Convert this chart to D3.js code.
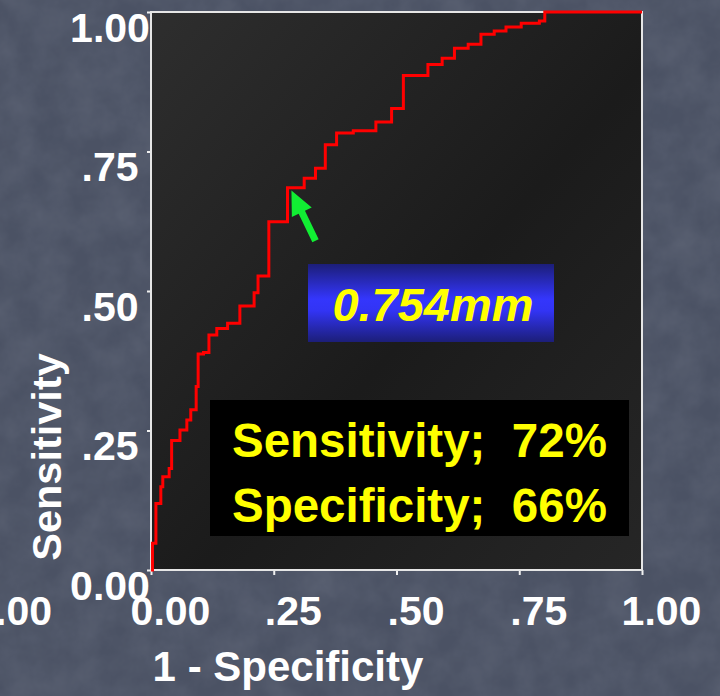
<!DOCTYPE html>
<html>
<head>
<meta charset="utf-8">
<script src="https://cdn.jsdelivr.net/npm/d3@7"></script>
<style>
  html, body { margin: 0; padding: 0; background: #4b5264; }
  svg { display: block; }
  text { font-family: "Liberation Sans", Arial, sans-serif; font-weight: bold; white-space: pre; }
</style>
</head>
<body>
<svg id="chart" width="720" height="696"></svg>
<script>
// ---- data ----
const fpr = [0, 0.003, 0.010, 0.020, 0.024, 0.037, 0.042, 0.059, 0.073, 0.081, 0.092, 0.096, 0.107, 0.118, 0.134, 0.156, 0.181, 0.210, 0.218, 0.240, 0.278, 0.312, 0.335, 0.355, 0.378, 0.412, 0.458, 0.490, 0.514, 0.564, 0.593, 0.618, 0.646, 0.672, 0.699, 0.723, 0.754, 0.791, 0.802, 1.0];
const tpr = [0, 0.048, 0.119, 0.149, 0.167, 0.182, 0.232, 0.251, 0.269, 0.287, 0.329, 0.387, 0.390, 0.421, 0.433, 0.442, 0.473, 0.497, 0.527, 0.624, 0.685, 0.702, 0.720, 0.762, 0.783, 0.787, 0.803, 0.827, 0.886, 0.906, 0.917, 0.935, 0.942, 0.960, 0.966, 0.973, 0.980, 0.984, 1.0, 1.0];
const tickValues = [0, 0.25, 0.5, 0.75, 1];
const xTickLabels = ["0.00", ".25", ".50", ".75", "1.00"];
const yTickLabels = ["0.00", ".25", ".50", ".75", "1.00"];
const xTitle = "1 - Specificity";
const yTitle = "Sensitivity";
const cutoffLabel = "0.754mm";
const resultLines = ["Sensitivity;  72%", "Specificity;  66%"];
const arrowTip = [0.286, 0.680];
const arrowTail = [0.335, 0.590];

// ---- layout ----
const W = 720, H = 696;
const plot = { left: 151, right: 642, top: 12, bottom: 570 };
const svg = d3.select("#chart");
const defs = svg.append("defs");

// background texture
const noise = defs.append("filter").attr("id", "noise").attr("x", 0).attr("y", 0).attr("width", "100%").attr("height", "100%");
noise.append("feTurbulence").attr("type", "fractalNoise").attr("baseFrequency", 0.03).attr("numOctaves", 4).attr("seed", 7).attr("result", "t");
noise.append("feColorMatrix").attr("in", "t").attr("type", "matrix")
  .attr("values", "0 0 0 0 0.36  0 0 0 0 0.39  0 0 0 0 0.46  0 0 0 0.5 -0.12");
svg.append("rect").attr("width", W).attr("height", H).attr("fill", "#4b5264");
svg.append("rect").attr("width", W).attr("height", H).attr("filter", "url(#noise)").attr("opacity", 0.45);

const x = d3.scaleLinear().domain([0, 1]).range([plot.left, plot.right]);
const y = d3.scaleLinear().domain([0, 1]).range([plot.bottom, plot.top]);

// plot background gradient
const pg = defs.append("linearGradient").attr("id", "plotbg").attr("x1", 0).attr("y1", 0).attr("x2", 1).attr("y2", 1);
pg.append("stop").attr("offset", "0%").attr("stop-color", "#2e2e2e");
pg.append("stop").attr("offset", "55%").attr("stop-color", "#1b1b1b");
pg.append("stop").attr("offset", "100%").attr("stop-color", "#262626");
svg.append("rect").attr("x", x(0)).attr("y", y(1)).attr("width", x(1) - x(0)).attr("height", y(0) - y(1))
  .attr("fill", "url(#plotbg)");

// axes
const xAxis = d3.axisBottom(x).tickValues(tickValues).tickSize(5).tickFormat((d, i) => xTickLabels[i]);
const gx = svg.append("g").attr("transform", `translate(0,${plot.bottom})`).call(xAxis);
gx.select(".domain").remove();
gx.selectAll(".tick line").attr("stroke", "#f0f0f0").attr("stroke-width", 2);
gx.selectAll(".tick text").attr("fill", "#ffffff").attr("font-size", 41).attr("dy", 0).attr("y", 55).attr("dx", 19);

const yAxis = d3.axisLeft(y).tickValues(tickValues).tickSize(4).tickFormat((d, i) => yTickLabels[i]);
const gy = svg.append("g").attr("transform", `translate(${plot.left},0)`).call(yAxis);
gy.select(".domain").remove();
gy.selectAll(".tick line").attr("stroke", "#f0f0f0").attr("stroke-width", 2);
gy.selectAll(".tick text").attr("fill", "#ffffff").attr("font-size", 41)
  .attr("text-anchor", "middle").attr("x", 110 - plot.left).attr("dy", 29);

// extra cut-off label at far left (from neighbouring panel)
svg.append("text").attr("x", 52).attr("y", 625).attr("text-anchor", "end").attr("fill", "#fff").attr("font-size", 41).text("1.00");

// plot frame
svg.append("rect").attr("x", x(0)).attr("y", y(1)).attr("width", x(1) - x(0)).attr("height", y(0) - y(1))
  .attr("fill", "none").attr("stroke", "#e6e6e6").attr("stroke-width", 2);

// axis titles
svg.append("text").attr("x", 288).attr("y", 681).attr("text-anchor", "middle").attr("fill", "#fff").attr("font-size", 42).text(xTitle);
svg.append("text").attr("transform", "translate(61,457) rotate(-90)").attr("text-anchor", "middle").attr("fill", "#fff").attr("font-size", 41.5).text(yTitle);

// ROC curve
const pts = fpr.map((f, i) => [f, tpr[i]]);
const line = d3.line().x(d => x(d[0])).y(d => y(d[1])).curve(d3.curveStepAfter);
svg.append("path").datum(pts).attr("d", line).attr("fill", "none").attr("stroke", "#ff0000").attr("stroke-width", 3);

// green arrow
(function () {
  const tx = x(arrowTip[0]), ty = y(arrowTip[1]);
  const ex = x(arrowTail[0]), ey = y(arrowTail[1]);
  const dx = tx - ex, dy = ty - ey, L = Math.hypot(dx, dy);
  const ux = dx / L, uy = dy / L, nx = -uy, ny = ux;
  const headLen = 24, headHalf = 11, shaftHalf = 3.5;
  const bx = tx - ux * headLen, by = ty - uy * headLen;
  const p = [
    [tx, ty],
    [bx + nx * headHalf, by + ny * headHalf],
    [bx + nx * shaftHalf, by + ny * shaftHalf],
    [ex + nx * shaftHalf, ey + ny * shaftHalf],
    [ex - nx * shaftHalf, ey - ny * shaftHalf],
    [bx - nx * shaftHalf, by - ny * shaftHalf],
    [bx - nx * headHalf, by - ny * headHalf]
  ];
  svg.append("polygon").attr("points", p.map(d => d.join(",")).join(" ")).attr("fill", "#11ee33");
})();

// blue cutoff box
const bg = defs.append("linearGradient").attr("id", "bluebox").attr("x1", 0).attr("y1", 0).attr("x2", 0).attr("y2", 1);
bg.append("stop").attr("offset", "0%").attr("stop-color", "#1c1e78");
bg.append("stop").attr("offset", "45%").attr("stop-color", "#3436fc");
bg.append("stop").attr("offset", "60%").attr("stop-color", "#3234f4");
bg.append("stop").attr("offset", "100%").attr("stop-color", "#1c1e78");
svg.append("rect").attr("x", 308).attr("y", 264).attr("width", 246).attr("height", 78).attr("fill", "url(#bluebox)");
svg.append("text").attr("x", 433).attr("y", 321).attr("text-anchor", "middle").attr("fill", "#ffff00")
  .attr("font-size", 47).attr("font-style", "italic").text(cutoffLabel);

// black result box
svg.append("rect").attr("x", 210).attr("y", 400).attr("width", 419).attr("height", 136).attr("fill", "#000");
svg.selectAll("text.res").data(resultLines).join("text").attr("class", "res")
  .attr("x", 232).attr("y", (d, i) => 457 + i * 65).attr("fill", "#ffff00").attr("font-size", 47.5).text(d => d);
</script>
</body>
</html>
